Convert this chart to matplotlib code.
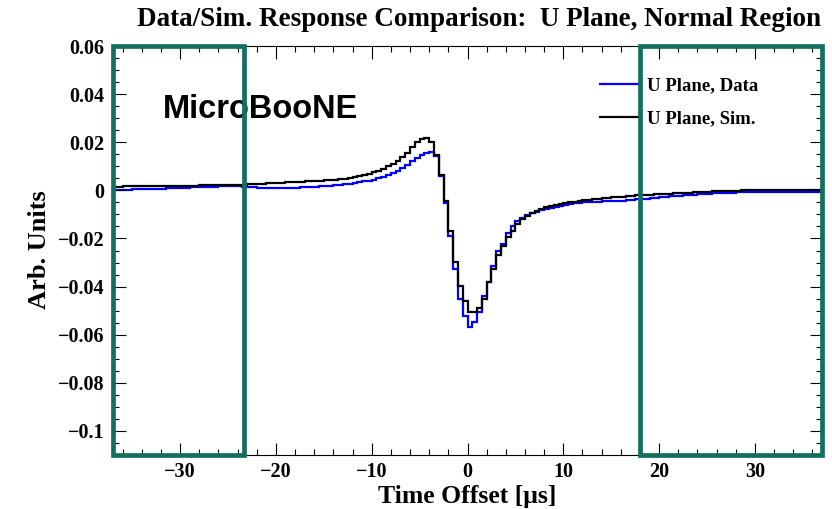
import numpy as np
import matplotlib
matplotlib.use("Agg")
import matplotlib.pyplot as plt
import matplotlib.patches as patches
from matplotlib.ticker import MultipleLocator, FuncFormatter

plt.rcParams['font.family'] = ['Liberation Serif', 'DejaVu Serif']
plt.rcParams['axes.unicode_minus'] = True

# histogram binning: 0.5 us bins from -37 to 37
bin_lo = -37.0
bin_width = 0.5

# sim (black), split by x ranges: [-37,-24], [-24,-14], [-14,8], [8,37]
sim_left = [0.0016, 0.0016, 0.0017, 0.0017, 0.0017, 0.0017, 0.0018, 0.0018, 0.0018, 0.0018,
            0.0019, 0.0019, 0.0019, 0.0019, 0.0020, 0.0020, 0.0020, 0.0020, 0.0021, 0.0021,
            0.0021, 0.0021, 0.0022, 0.0022, 0.0022, 0.0023]
sim_rise = [0.0023, 0.0024, 0.0025, 0.0026, 0.0027, 0.0028, 0.0029, 0.0030, 0.0031, 0.0032,
            0.0033, 0.0034, 0.0035, 0.0036, 0.0037, 0.0038, 0.0039, 0.0040, 0.0041, 0.0042]
sim_peak = [0.0044, 0.0046, 0.0049, 0.0052, 0.0055, 0.0059, 0.0063, 0.0068, 0.0075, 0.0082,
            0.0090, 0.0100, 0.0110, 0.0122, 0.0138, 0.0154, 0.0180, 0.0200, 0.0213, 0.0217,
            0.0203, 0.0146, 0.0063, -0.0046, -0.0170, -0.0296, -0.0396, -0.0460,
            -0.0504, -0.0504, -0.0490, -0.0450, -0.0380, -0.0325, -0.0270, -0.0230,
            -0.0192, -0.0167, -0.0140, -0.0120, -0.0106, -0.0094, -0.0085, -0.0077]
sim_tail = [-0.0071, -0.0066, -0.0062, -0.0058, -0.0054, -0.0050, -0.0047, -0.0044, -0.0041, -0.0039,
            -0.0036, -0.0034, -0.0032, -0.0030, -0.0029, -0.0027, -0.0026, -0.0024, -0.0023, -0.0021,
            -0.0020, -0.0019, -0.0018, -0.0017, -0.0016, -0.0015, -0.0014, -0.0013, -0.0012, -0.0010,
            -0.0009, -0.0008, -0.0007, -0.0006, -0.0005, -0.0004, -0.0003, -0.0003, -0.0002, -0.0001,
            -0.0001, 0.0000, 0.0000, 0.0000, 0.0001, 0.0001, 0.0001, 0.0001, 0.0001, 0.0002,
            0.0002, 0.0002, 0.0002, 0.0002, 0.0002, 0.0002, 0.0002, 0.0002]

# data (blue)
data_left = [0.0002, 0.0002, 0.0003, 0.0003, 0.0004, 0.0004, 0.0005, 0.0005, 0.0006, 0.0006,
             0.0007, 0.0008, 0.0008, 0.0009, 0.0010, 0.0011, 0.0012, 0.0012, 0.0013, 0.0014,
             0.0015, 0.0016, 0.0017, 0.0018, 0.0018, 0.0019]
data_rise = [0.0018, 0.0016, 0.0014, 0.0012, 0.0011, 0.0010, 0.0009, 0.0008, 0.0008, 0.0008,
             0.0009, 0.0010, 0.0011, 0.0012, 0.0014, 0.0015, 0.0016, 0.0017, 0.0019, 0.0020]
data_peak = [0.0021, 0.0023, 0.0025, 0.0028, 0.0031, 0.0034, 0.0037, 0.0040, 0.0044, 0.0050,
             0.0057, 0.0064, 0.0072, 0.0082, 0.0093, 0.0106, 0.0120, 0.0135, 0.0148, 0.0157,
             0.0158, 0.0142, 0.0058, -0.0054, -0.0188, -0.0325, -0.0450, -0.0521,
             -0.0567, -0.0546, -0.0504, -0.0438, -0.0379, -0.0313, -0.0254, -0.0221,
             -0.0179, -0.0150, -0.0129, -0.0113, -0.0104, -0.0094, -0.0088, -0.0083]
data_tail = [-0.0079, -0.0075, -0.0071, -0.0067, -0.0062, -0.0057, -0.0054, -0.0052, -0.0050, -0.0049,
             -0.0048, -0.0047, -0.0046, -0.0046, -0.0045, -0.0044, -0.0043, -0.0041, -0.0039, -0.0038,
             -0.0036, -0.0035, -0.0033, -0.0031, -0.0029, -0.0027, -0.0025, -0.0024, -0.0022, -0.0021,
             -0.0020, -0.0018, -0.0017, -0.0016, -0.0014, -0.0013, -0.0012, -0.0011, -0.0010, -0.0009,
             -0.0008, -0.0008, -0.0007, -0.0007, -0.0006, -0.0006, -0.0006, -0.0005, -0.0005, -0.0005,
             -0.0005, -0.0005, -0.0005, -0.0005, -0.0005, -0.0005, -0.0005, -0.0005]

sim_vals = np.array(sim_left + sim_rise + sim_peak + sim_tail)
data_vals = np.array(data_left + data_rise + data_peak + data_tail)
edges = bin_lo + bin_width * np.arange(len(sim_vals) + 1)

# highlighted regions (x ranges)
box_ranges = [(-37, -23.3), (18.0, 37)]
box_color = '#13705f'


def fmt_num(v, pos):
    v = round(v, 4) + 0.0
    if v == 0:
        return '0'
    return f"{v:g}".replace('-', '\u2212')


fig = plt.figure(figsize=(8.32, 5.09), dpi=100)
ax = fig.add_axes([113 / 832, 1 - 455 / 509, 709 / 832, 409 / 509])

ax.stairs(data_vals, edges, color='#0000ff', linewidth=1.6, label='U Plane, Data', baseline=None)
ax.stairs(sim_vals, edges, color='black', linewidth=1.6, label='U Plane, Sim.', baseline=None)

ax.set_xlim(-37, 37)
ax.set_ylim(-0.11, 0.06)

ax.xaxis.set_major_locator(MultipleLocator(10))
ax.xaxis.set_minor_locator(MultipleLocator(2))
ax.yaxis.set_major_locator(MultipleLocator(0.02))
ax.yaxis.set_minor_locator(MultipleLocator(0.005))
ax.yaxis.set_major_formatter(FuncFormatter(fmt_num))
ax.xaxis.set_major_formatter(FuncFormatter(fmt_num))

ax.tick_params(which='both', direction='in', top=True, right=True, width=0.8)
ax.tick_params(which='major', length=9, labelsize=14.5)
ax.tick_params(which='minor', length=4.5)
ax.tick_params(axis='y', pad=6)
ax.tick_params(axis='x', pad=5)
for lab in ax.get_xticklabels() + ax.get_yticklabels():
    lab.set_fontweight('bold')
for sp in ax.spines.values():
    sp.set_linewidth(0.8)

ax.set_xlabel('Time Offset [\u03bcs]', fontsize=18.5, fontweight='bold', labelpad=2)
fig.text(40 / 832, 1 - 250 / 509, 'Arb. Units', rotation=90, ha='center', va='center',
         fontsize=19, fontweight='bold')
fig.text(479 / 832, 1 - 20 / 509, 'Data/Sim. Response Comparison:  U Plane, Normal Region',
         ha='center', va='center', fontsize=19.5, fontweight='bold')

ax.text(-31.8, 0.0335, 'MicroBooNE', family=['Liberation Sans', 'DejaVu Sans'],
        fontsize=23.5, fontweight='bold', ha='left', va='center', zorder=3)

ax.legend(loc='upper left', bbox_to_anchor=(0.677, 0.942), frameon=False,
          prop={'weight': 'bold', 'size': 13.5}, handlelength=2.0, handletextpad=0.5,
          labelspacing=0.85, borderaxespad=0)

for x0, x1 in box_ranges:
    rect = patches.Rectangle((x0, -0.11), x1 - x0, 0.17, fill=False, edgecolor=box_color,
                             linewidth=3.4, zorder=10, clip_on=False)
    ax.add_patch(rect)

fig.savefig('out.png', dpi=100)
